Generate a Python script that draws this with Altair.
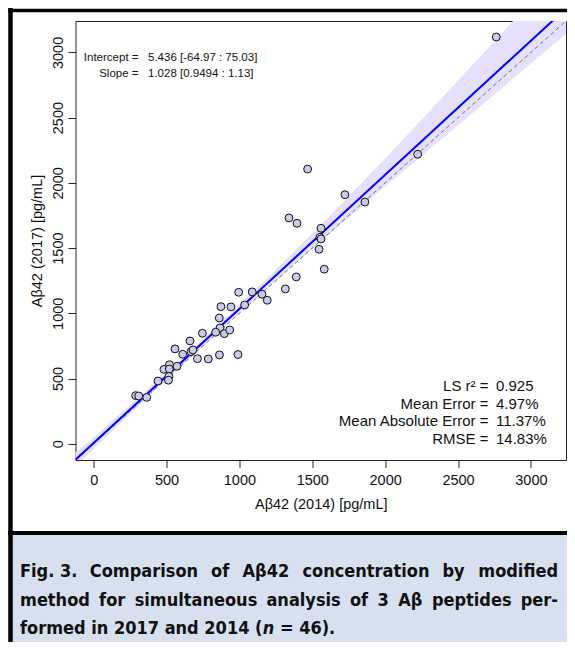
import altair as alt
import pandas as pd

# ---------------- data ----------------
x2014 = [1468, 1724, 2223, 2762, 1340, 1395, 1560, 1553, 1560, 1546, 1582, 1390, 1315,
         995, 1088, 1155, 1191, 1036, 873, 942, 862, 867, 837, 896, 933, 746, 661, 558,
         611, 668, 712, 786, 863, 990, 572, 520, 482, 519, 517, 513, 441, 288, 309, 364,
         1861, 681]
y2017 = [2106, 1909, 2219, 3118, 1731, 1690, 1652, 1583, 1570, 1491, 1338, 1279, 1187,
         1161, 1164, 1146, 1100, 1064, 1051, 1049, 964, 888, 855, 844, 872, 847, 788, 727,
         686, 706, 652, 650, 681, 684, 594, 606, 570, 573, 516, 487, 481, 369, 366, 355,
         1853, 719]

intercept = 5.436
slope = 1.028
line_x = [-300, 3500]

band_x = [-200, 0, 400, 800, 1200, 1600, 2000, 2400, 2800, 3200, 3400]
band_lower = [-260, -40, 385, 800, 1204, 1590, 1971, 2348, 2724, 3105, 3296]
band_upper = [-140, 50, 449, 856, 1279, 1725, 2186, 2663, 3146, 3635, 3881]

axis_limits = [0, 3116]
x_ticks = [0, 500, 1000, 1500, 2000, 2500, 3000]
y_ticks = [0, 500, 1000, 1500, 2000, 2500, 3000]

fit_labels = ["Intercept =", "Slope ="]
fit_values = ["5.436 [-64.97 : 75.03]", "1.028 [0.9494 :  1.13]"]
stat_labels = ["LS r\u00b2 =", "Mean Error =", "Mean Absolute Error =", "RMSE ="]
stat_values = ["0.925", "4.97%", "11.37%", "14.83%"]

caption_line1 = ["Fig. 3.", "Comparison", "of", "A\u03b242", "concentration", "by", "modified"]
caption_line2 = ["method", "for", "simultaneous", "analysis", "of", "3", "A\u03b2", "peptides", "per-"]
caption_3a = "formed in 2017 and 2014 ("
caption_3b = "n"
caption_3c = "= 46)."

# ---------------- layout ----------------
W, H = 490.5, 439
PAD_L, PAD_T = 67.5, 13
TOT_W, TOT_H = 559, 634
FONT = "Liberation Sans"
CAP_FONT = "DejaVu Sans Condensed, DejaVu Sans"
CS = 18

# approximate glyph advance widths (em) of DejaVu Sans Bold, used to justify caption words
GW = {"a": .675, "b": .716, "c": .593, "d": .716, "e": .678, "f": .435, "g": .716, "h": .712,
      "i": .343, "l": .343, "m": 1.042, "n": .712, "o": .687, "p": .716, "r": .493, "s": .595,
      "t": .478, "u": .712, "y": .65, "A": .774, "C": .732, "F": .63, "(": .457, ")": .457,
      ".": .381, "-": .416, "=": .838, " ": .348, "\u03b2": .72}
COND = 0.884 * 1.015


def est_w(word, size):
    return sum(GW.get(ch, .696) for ch in word) * COND * size


# R-style 4% expansion of the common axis limits
ext = 0.04 * (axis_limits[1] - axis_limits[0])
dom = [axis_limits[0] - ext, axis_limits[1] + ext]
xscale = alt.Scale(domain=dom, nice=False, zero=False)
yscale = alt.Scale(domain=dom, nice=False, zero=False)

xaxis = alt.Axis(values=x_ticks, format="d", title="A\u03b242 (2014) [pg/mL]", grid=False,
                 domain=False, ticks=True, tickSize=7.5, tickColor="#222", tickWidth=1,
                 labelFont=FONT, labelFontSize=14.5, labelColor="#111", labelPadding=6,
                 labelFlush=False, labelOverlap=False,
                 titleFont=FONT, titleFontSize=14.5, titleFontWeight="normal", titleColor="#111",
                 titleY=44, titleBaseline="middle")
yaxis = alt.Axis(values=y_ticks, format="d", title="A\u03b242 (2017) [pg/mL]", grid=False,
                 domain=False, ticks=True, tickSize=7.5, tickColor="#222", tickWidth=1,
                 labelFont=FONT, labelFontSize=14.5, labelColor="#111", labelPadding=3,
                 labelAngle=270, labelAlign="center", labelBaseline="bottom",
                 labelFlush=False, labelOverlap=False,
                 titleFont=FONT, titleFontSize=14.5, titleFontWeight="normal", titleColor="#111",
                 titleAngle=270, titleX=-38, titleY=H / 2, titleBaseline="middle", titleAlign="center")

X = alt.X("x:Q", scale=xscale, axis=xaxis)

pts_df = pd.DataFrame({"x": x2014, "y": y2017})
band_df = pd.DataFrame({"x": band_x, "lo": band_lower, "hi": band_upper})
fit_df = pd.DataFrame({"x": line_x, "y": [intercept + slope * v for v in line_x]})
id_df = pd.DataFrame({"x": line_x, "y": line_x})
one = pd.DataFrame({"a": [0]})

band = alt.Chart(band_df).mark_area(color="#e6e0fd", opacity=1, clip=True).encode(
    x=X, y=alt.Y("lo:Q", scale=yscale, axis=yaxis), y2="hi:Q")
ident = alt.Chart(id_df).mark_line(color="#555", strokeWidth=0.8, strokeDash=[4, 3], clip=True).encode(
    x=X, y=alt.Y("y:Q", scale=yscale, axis=yaxis))
fit = alt.Chart(fit_df).mark_line(color="#0000ff", strokeWidth=2, clip=True).encode(
    x=X, y=alt.Y("y:Q", scale=yscale, axis=yaxis))
pts = alt.Chart(pts_df).mark_circle(size=62, color="#cbcae9", opacity=1, stroke="#111",
                                    strokeWidth=1, clip=True).encode(
    x=X, y=alt.Y("y:Q", scale=yscale, axis=yaxis))


def txt(text, x, y, align="left", size=11.5, font=FONT, weight="normal", style="normal",
        baseline="middle", color="#111"):
    return alt.Chart(one).mark_text(text=text, align=align, baseline=baseline, fontSize=size,
                                    font=font, fontWeight=weight, fontStyle=style,
                                    color=color).encode(x=alt.value(x), y=alt.value(y))


def px(page_x):
    return page_x - (8 + PAD_L)


def py(page_y):
    return page_y - (8 + PAD_T)


layers = [band, ident, fit, pts]

# annotation: fit parameters (top-left)
for i, (lab, val) in enumerate(zip(fit_labels, fit_values)):
    yy = py(58.3 + 15.3 * i)
    layers.append(txt(lab, px(138.5), yy, align="right", size=11.5))
    layers.append(txt(val, px(148), yy, align="left", size=11.5))

# annotation: statistics (bottom-right)
for i, (lab, val) in enumerate(zip(stat_labels, stat_values)):
    yy = py(386 + 17.5 * i)
    layers.append(txt(lab, px(488.5), yy, align="right", size=15))
    layers.append(txt(val, px(496), yy, align="left", size=15))

# figure frame and caption panel
frame = [
    alt.Chart(one).mark_rect(color="#d7e0ef").encode(
        x=alt.value(px(12)), x2=alt.value(px(580)), y=alt.value(py(535)), y2=alt.value(py(660))),
    alt.Chart(one).mark_rule(color="#000", strokeWidth=4).encode(
        x=alt.value(px(8)), x2=alt.value(px(580)), y=alt.value(py(533))),
    alt.Chart(one).mark_rule(color="#000", strokeWidth=3.5).encode(
        x=alt.value(px(8)), x2=alt.value(px(580)), y=alt.value(py(10.5))),
    alt.Chart(one).mark_rule(color="#000", strokeWidth=4.5).encode(
        x=alt.value(px(10.5)), y=alt.value(py(8)), y2=alt.value(py(660))),
]
layers = frame + layers


def justified(words, left, right, base_y, size):
    widths = [est_w(w, size) for w in words]
    gap = (right - left - sum(widths)) / (len(words) - 1)
    out = []
    xpos = left
    for i, (w, wd) in enumerate(zip(words, widths)):
        if i == len(words) - 1:
            out.append(txt(w, px(right), py(base_y), align="right", size=size, font=CAP_FONT,
                           weight="bold", baseline="alphabetic"))
        else:
            out.append(txt(w, px(xpos), py(base_y), align="left", size=size, font=CAP_FONT,
                           weight="bold", baseline="alphabetic"))
        xpos += wd + gap
    return out


layers += justified(caption_line1, 20, 558, 577, CS)
layers += justified(caption_line2, 20, 558, 605.5, CS)
wa = est_w(caption_3a, CS)
wn = est_w(caption_3b, CS)
sp = est_w(" ", CS)
layers.append(txt(caption_3a, px(20), py(634), size=CS, font=CAP_FONT, weight="bold", baseline="alphabetic"))
layers.append(txt(caption_3b, px(21 + wa), py(634), size=CS, font=CAP_FONT, weight="bold",
                  style="italic", baseline="alphabetic"))
layers.append(txt(caption_3c, px(21 + wa + wn + sp), py(634), size=CS, font=CAP_FONT, weight="bold",
                  baseline="alphabetic"))

chart = alt.layer(*layers).properties(
    width=W, height=H,
    autosize=alt.AutoSizeParams(type="none"),
    padding={"left": PAD_L, "top": PAD_T, "right": TOT_W - PAD_L - W, "bottom": TOT_H - PAD_T - H},
    background="white",
).configure_view(stroke="#222", strokeWidth=1)

chart.save("out.html", embed_options={"renderer": "svg", "actions": False})
